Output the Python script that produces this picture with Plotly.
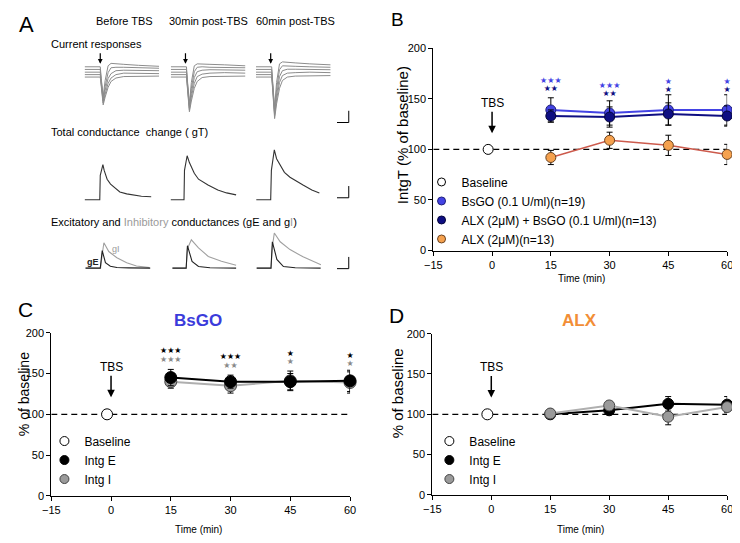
import plotly.graph_objects as go

# ------------------------------------------------------------------ data
TIME = [15, 30, 45, 60]
X_TICKS = [-15, 0, 15, 30, 45, 60]
Y_TICKS = [0, 50, 100, 150, 200]
BASELINE_T = [-1]
BASELINE_V = [100]

# Panel B  (IntgT, % of baseline)
B_BSGO = [139, 136, 139, 139]
B_BSGO_ERR = [12, 12, 15, 15]
B_ALX_BSGO = [133, 132, 135, 133]
B_ALX_BSGO_ERR = [6, 10, 11, 10]
B_ALX = [92, 109, 104, 95]
B_ALX_ERR = [7, 8, 10, 10]
B_STARS_TOP = ["★★★", "★★★", "★", "★"]
B_STARS_TOP_Y = [168, 163, 167, 167]
B_STARS_BOT = ["★★", "★★", "★", "★"]
B_STARS_BOT_Y = [160, 155, 159, 159]

# Panel C  (BsGO: Intg E / Intg I)
C_E = [145, 140, 140, 141]
C_E_ERR = [10, 8, 10, 13]
C_I = [140, 135, 141, 139]
C_I_ERR = [8, 9, 12, 13]
C_STARS_TOP = ["★★★", "★★★", "★", "★"]
C_STARS_TOP_Y = [177, 170, 174, 172]
C_STARS_BOT = ["★★★", "★★", "★", "★"]
C_STARS_BOT_Y = [166, 159, 164, 162]

# Panel D  (ALX: Intg E / Intg I)
D_E = [100, 105, 113, 112]
D_E_ERR = [3, 4, 9, 10]
D_I = [101, 111, 97, 109]
D_I_ERR = [4, 5, 10, 5]

# Panel A  example traces (arbitrary units; time in ms-like samples)
CR_T = [0, 15, 16, 17, 19, 21, 24, 27, 32, 40, 55, 76]
CR_BEFORE = [
    [0, 0, 0, -12, -30, -14, 1, 3.5, 3, 2.5, 1.5, 0.5],
    [-2.7, -2.7, -2.7, -14, -33, -20, -6, -1, -0.5, -0.5, -1, -1.5],
    [-5.5, -5.5, -5.5, -16, -35, -24, -12, -7, -4, -3.5, -3.5, -4],
    [-8, -8, -8, -18, -37, -28, -17, -11.5, -8, -6.5, -6.5, -7],
    [-10.5, -10.5, -10.5, -20, -39, -31, -21, -15, -11.5, -10, -9.5, -9.5],
]
CR_30 = [
    [0, 0, 0, -14, -38, -16, 1, 3, 3, 2.5, 2, 1],
    [-2.7, -2.7, -2.7, -16, -40, -22, -5, -0.5, 0, -0.5, -0.5, -1],
    [-5.5, -5.5, -5.5, -18, -42, -27, -11, -5, -3.5, -3, -3, -3.5],
    [-8, -8, -8, -20, -44, -31, -17, -10, -7.5, -6.5, -6, -6.5],
    [-10.5, -10.5, -10.5, -22, -46, -35, -22, -15, -11, -10, -9.5, -9.5],
]
CR_60 = [
    [0, 0, 0, -15, -42, -16, 3, 5, 4.5, 4, 3, 2],
    [-2.7, -2.7, -2.7, -17, -45, -23, -3, 1, 1, 0.5, 0, -0.5],
    [-5.5, -5.5, -5.5, -19, -48, -29, -10, -4, -2.5, -2.5, -2.5, -3],
    [-8, -8, -8, -21, -50, -34, -16, -9, -6.5, -6, -5.5, -6],
    [-10.5, -10.5, -10.5, -23, -53, -38, -22, -14, -10.5, -9.5, -9, -9],
]
STIM_T = [16, 15, 15]
STIM_V = 3

GT_BEFORE_T = [0, 15.5, 16, 18.7, 20, 23, 26.5, 30, 36, 43, 50, 58, 68]
GT_BEFORE_V = [0, 0, 25, 36, 30, 21, 16, 13, 8, 6, 4.7, 3.5, 3]
GT_30_T = [-0.7, 13.5, 14, 16.7, 19, 21.7, 24, 28.3, 33, 38, 48, 57, 66.7]
GT_30_V = [0, 0, 30, 45, 38, 31, 27, 21, 18, 15, 10, 7, 5]
GT_60_T = [0.3, 15, 15.7, 18.7, 21, 24.7, 29, 34.7, 40, 48, 57, 64.7]
GT_60_V = [0, 0, 30, 51, 42, 35, 28, 23, 19.5, 15, 10, 7]

GE_BEFORE_T = [1, 16, 18, 21.3, 26.3, 33, 45, 67]
GE_BEFORE_V = [0, 0, 18, 5.7, 2, 0.7, 0.3, 0]
GI_BEFORE_T = [1, 16.3, 18, 19.7, 24.7, 33, 43, 53, 66.3]
GI_BEFORE_V = [0, 0, 14, 26, 17, 10.6, 5.6, 2.3, 0.6]
GE_30_T = [1.7, 15.7, 17, 21.7, 28.3, 40, 66.7]
GE_30_V = [0, 0, 23, 7, 1.7, 0.5, 0]
GI_30_T = [1.7, 15.7, 17, 18.5, 21, 28.3, 38.3, 51.7, 66.7]
GI_30_V = [0, 0, 20, 24, 29, 20.7, 12, 7, 3]
GE_60_T = [0.7, 15.3, 16.7, 21.3, 28, 40, 66]
GE_60_V = [0, 0, 27, 9, 1.7, 0.5, 0]
GI_60_T = [0.7, 15.3, 16.7, 18.7, 24.7, 34.7, 48, 66.3]
GI_60_V = [0, 0, 22, 36, 27, 19, 11.6, 3.6]

SCALE_T = 12
SCALE_V = 12

# ------------------------------------------------------------------ styles
# the page body keeps its default 8px margin, so the figure is drawn 8px in
OFF = 8
W, H = 740 - OFF, 543 - OFF
FONT = "Liberation Sans, Arial, sans-serif"
STAR_FONT = "DejaVu Sans"
LIGHT_BLUE = "#4343E4"
NAVY = "#0E0E82"
ORANGE = "#F5A14E"
RED_LINE = "#CC5A4C"
GRAY = "#9A9A9A"


def px(x):
    return (x - OFF) / W


def py(y):
    return 1 - (y - OFF) / H


def dom_x(a, b):
    return [px(a), px(b)]


def dom_y(top, bottom):
    return [py(bottom), py(top)]


fig = go.Figure()


def err(vals):
    return dict(type="data", array=vals, visible=True, color="black",
                thickness=1, width=3)


def series(x, y, e, xa, ya, line_color, line_w, m_color, m_line, size):
    fig.add_trace(go.Scatter(
        x=x, y=y, error_y=err(e), mode="lines+markers",
        line=dict(color=line_color, width=line_w),
        marker=dict(size=size, color=m_color, line=dict(color=m_line, width=1)),
        xaxis=xa, yaxis=ya, showlegend=False, cliponaxis=False,
        hoverinfo="skip"))


def baseline(xa, ya, size):
    fig.add_trace(go.Scatter(
        x=BASELINE_T, y=BASELINE_V, mode="markers",
        marker=dict(size=size, color="white", line=dict(color="black", width=1)),
        xaxis=xa, yaxis=ya, showlegend=False, cliponaxis=False))


def legend_entry(name, color, line, leg, size=9):
    fig.add_trace(go.Scatter(
        x=[None], y=[None], mode="markers", name=name,
        marker=dict(size=size, color=color, line=dict(color=line, width=1)),
        legend=leg, showlegend=True))


def stars(texts, ys, color, xa, ya):
    fig.add_trace(go.Scatter(
        x=TIME, y=ys, text=texts, mode="text",
        textfont=dict(family=STAR_FONT, size=8, color=color),
        xaxis=xa, yaxis=ya, showlegend=False, cliponaxis=False))


# ---------------- Panel B
series(TIME, B_BSGO, B_BSGO_ERR, "x", "y", LIGHT_BLUE, 2, LIGHT_BLUE, "#20207a", 10)
series(TIME, B_ALX_BSGO, B_ALX_BSGO_ERR, "x", "y", NAVY, 2, NAVY, "#05053a", 10)
series(TIME, B_ALX, B_ALX_ERR, "x", "y", RED_LINE, 1.5, ORANGE, "#6a4220", 10)
baseline("x", "y", 10)
stars(B_STARS_TOP, B_STARS_TOP_Y, LIGHT_BLUE, "x", "y")
stars(B_STARS_BOT, B_STARS_BOT_Y, NAVY, "x", "y")
legend_entry("Baseline", "white", "black", "legend", 8)
legend_entry("BsGO (0.1 U/ml)(n=19)", LIGHT_BLUE, "#20207a", "legend", 8)
legend_entry("ALX (2μM) + BsGO (0.1 U/ml)(n=13)", NAVY, "#05053a", "legend", 8)
legend_entry("ALX (2μM)(n=13)", ORANGE, "#6a4220", "legend", 8)

# ---------------- Panel C
series(TIME, C_I, C_I_ERR, "x2", "y2", "#AFAFAF", 2, GRAY, "#444444", 12)
series(TIME, C_E, C_E_ERR, "x2", "y2", "black", 2, "black", "black", 12)
baseline("x2", "y2", 11)
stars(C_STARS_TOP, C_STARS_TOP_Y, "black", "x2", "y2")
stars(C_STARS_BOT, C_STARS_BOT_Y, "#8A8A8A", "x2", "y2")
legend_entry("Baseline", "white", "black", "legend2")
legend_entry("Intg E", "black", "black", "legend2")
legend_entry("Intg I", GRAY, "#444444", "legend2")

# ---------------- Panel D
series(TIME, D_E, D_E_ERR, "x3", "y3", "black", 2, "black", "black", 11)
series(TIME, D_I, D_I_ERR, "x3", "y3", "#AFAFAF", 2, GRAY, "#444444", 11)
baseline("x3", "y3", 11)
legend_entry("Baseline", "white", "black", "legend3")
legend_entry("Intg E", "black", "black", "legend3")
legend_entry("Intg I", GRAY, "#444444", "legend3")

# ---------------- Panel A traces
for col, sweeps in zip(["x4", "x5", "x6"], [CR_BEFORE, CR_30, CR_60]):
    for sw in sweeps:
        fig.add_trace(go.Scatter(x=CR_T, y=sw, mode="lines",
                                 line=dict(color="#8C8C8C", width=1),
                                 xaxis=col, yaxis="y4", showlegend=False,
                                 hoverinfo="skip"))

for col, tt, vv in [("x4", GT_BEFORE_T, GT_BEFORE_V), ("x5", GT_30_T, GT_30_V),
                    ("x6", GT_60_T, GT_60_V)]:
    fig.add_trace(go.Scatter(x=tt, y=vv, mode="lines",
                             line=dict(color="#333333", width=1.1),
                             xaxis=col, yaxis="y5", showlegend=False,
                             hoverinfo="skip"))

for col, et, ev, it, iv in [("x4", GE_BEFORE_T, GE_BEFORE_V, GI_BEFORE_T, GI_BEFORE_V),
                            ("x5", GE_30_T, GE_30_V, GI_30_T, GI_30_V),
                            ("x6", GE_60_T, GE_60_V, GI_60_T, GI_60_V)]:
    fig.add_trace(go.Scatter(x=it, y=iv, mode="lines",
                             line=dict(color="#A0A0A0", width=1.1),
                             xaxis=col, yaxis="y6", showlegend=False,
                             hoverinfo="skip"))
    fig.add_trace(go.Scatter(x=et, y=ev, mode="lines",
                             line=dict(color="#222222", width=1.1),
                             xaxis=col, yaxis="y6", showlegend=False,
                             hoverinfo="skip"))

# ------------------------------------------------------------------ layout
def data_x(domain):
    return dict(domain=domain, range=[-15, 60], tickvals=X_TICKS,
                showline=True, linecolor="black", linewidth=1,
                ticks="outside", ticklen=4, tickcolor="black",
                tickfont=dict(family=FONT, size=11, color="black"),
                showgrid=False, zeroline=False, fixedrange=True)


def data_y(domain):
    return dict(domain=domain, range=[0, 200], tickvals=Y_TICKS,
                showline=True, linecolor="black", linewidth=1,
                ticks="outside", ticklen=4, tickcolor="black",
                tickfont=dict(family=FONT, size=11, color="black"),
                showgrid=False, zeroline=False, fixedrange=True)


def hidden(domain, rng):
    return dict(domain=domain, range=rng, visible=False, fixedrange=True,
                showgrid=False, zeroline=False)


layout = dict(
    width=W, height=H, autosize=False,
    margin=dict(l=0, r=0, t=0, b=0),
    paper_bgcolor="white", plot_bgcolor="rgba(0,0,0,0)",
    font=dict(family=FONT, color="black"),
    xaxis=dict(data_x(dom_x(433, 733)), anchor="y"),
    yaxis=dict(data_y(dom_y(43, 250)), anchor="x"),
    xaxis2=dict(data_x(dom_x(43, 348)), anchor="y2"),
    yaxis2=dict(data_y(dom_y(334, 501)), anchor="x2"),
    xaxis3=dict(data_x(dom_x(432, 733)), anchor="y3"),
    yaxis3=dict(data_y(dom_y(335, 500)), anchor="x3"),
    xaxis4=dict(hidden(dom_x(77, 157), [0, 80]), anchor="y4"),
    xaxis5=dict(hidden(dom_x(165, 245), [0, 80]), anchor="y5"),
    xaxis6=dict(hidden(dom_x(252, 352), [0, 100]), anchor="y6"),
    yaxis4=dict(hidden(dom_y(45, 125), [-63, 17]), anchor="x4"),
    yaxis5=dict(hidden(dom_y(140, 205), [-7, 58]), anchor="x5"),
    yaxis6=dict(hidden(dom_y(225, 272), [-4, 43]), anchor="x6"),
    showlegend=True,
)

leg_common = dict(xanchor="left", yanchor="top", bgcolor="rgba(0,0,0,0)",
                  font=dict(family=FONT, size=12, color="black"),
                  itemwidth=30, tracegroupgap=0, itemclick=False,
                  itemdoubleclick=False)
layout["legend"] = dict(leg_common, x=px(421), y=py(165))
layout["legend2"] = dict(leg_common, x=px(36), y=py(430))
layout["legend3"] = dict(leg_common, x=px(429), y=py(430))
fig.update_layout(**layout)

# dashed 100% lines
for xr, yr in [("x", "y"), ("x2", "y2"), ("x3", "y3")]:
    fig.add_shape(type="line", xref=xr, yref=yr, x0=-15, x1=60, y0=100, y1=100,
                  line=dict(color="black", width=1.3, dash="6px,4px"), layer="below")

# scale bars (panel A)
for ya, vbase in [("y4", -57), ("y5", 2), ("y6", -0.5)]:
    x_end = 94.7
    fig.add_shape(type="line", xref="x6", yref=ya, x0=x_end - SCALE_T, x1=x_end,
                  y0=vbase, y1=vbase, line=dict(color="black", width=1))
    fig.add_shape(type="line", xref="x6", yref=ya, x0=x_end, x1=x_end,
                  y0=vbase, y1=vbase + SCALE_V, line=dict(color="black", width=1))

ann = []


def text(x, y, s, size, xanchor="center", angle=0, color="black", bold=False):
    ann.append(dict(x=px(x), y=py(y), xref="paper", yref="paper",
                    text=("<b>%s</b>" % s) if bold else s,
                    showarrow=False, xanchor=xanchor, yanchor="middle",
                    textangle=angle, font=dict(family=FONT, size=size, color=color)))


# panel letters
text(18, 19, "A", 22)
text(396, 14, "B", 19)
text(17, 310, "C", 21)
text(395, 316, "D", 21)

# panel A texts
text(118, 15, "Before TBS", 11)
text(204, 15, "30min post-TBS", 11)
text(292, 15, "60min post-TBS", 11)
text(41, 39, "Current responses", 11, xanchor="left")
text(41, 129, "Total conductance\u00a0\u00a0change ( gT)", 11, xanchor="left")
text(41, 221, "Excitatory and <span style='color:#9a9a9a'>Inhibitory</span> conductances (gE and g<span style='color:#9a9a9a'>I</span>)",
     11, xanchor="left")
text(86, 262, "gE", 9, color="#222222", bold=True)
text(109, 248, "gI", 9, color="#9a9a9a")

# titles
text(193, 322, "BsGO", 17, color="#3B3BDB", bold=True)
text(582, 322, "ALX", 17, color="#F28E36", bold=True)

# axis titles
text(401, 132, "IntgT (% of baseline)", 15, angle=-90)
text(15, 397, "% of baseline", 14, angle=-90)
text(396, 396, "% of baseline", 15, angle=-90)
text(584, 279, "Time (min)", 10)
text(193, 535, "Time (min)", 10)
text(583, 535, "Time (min)", 10)

# TBS arrows
for xr, yr, tip in [("x", "y", 116), ("x2", "y2", 121), ("x3", "y3", 121)]:
    ann.append(dict(x=0, y=tip, xref=xr, yref=yr, text="TBS", showarrow=True,
                    ax=0, ay=-30, arrowhead=2, arrowsize=1, arrowwidth=1.5,
                    arrowcolor="black", font=dict(family=FONT, size=12, color="black")))

# stimulus arrows over current responses
for xr, st in zip(["x4", "x5", "x6"], STIM_T):
    ann.append(dict(x=st, y=STIM_V, xref=xr, yref="y4", text="", showarrow=True,
                    ax=0, ay=-12, arrowhead=2, arrowsize=0.8, arrowwidth=1.2,
                    arrowcolor="black"))

fig.update_layout(annotations=ann)
fig.write_html("out.html")
